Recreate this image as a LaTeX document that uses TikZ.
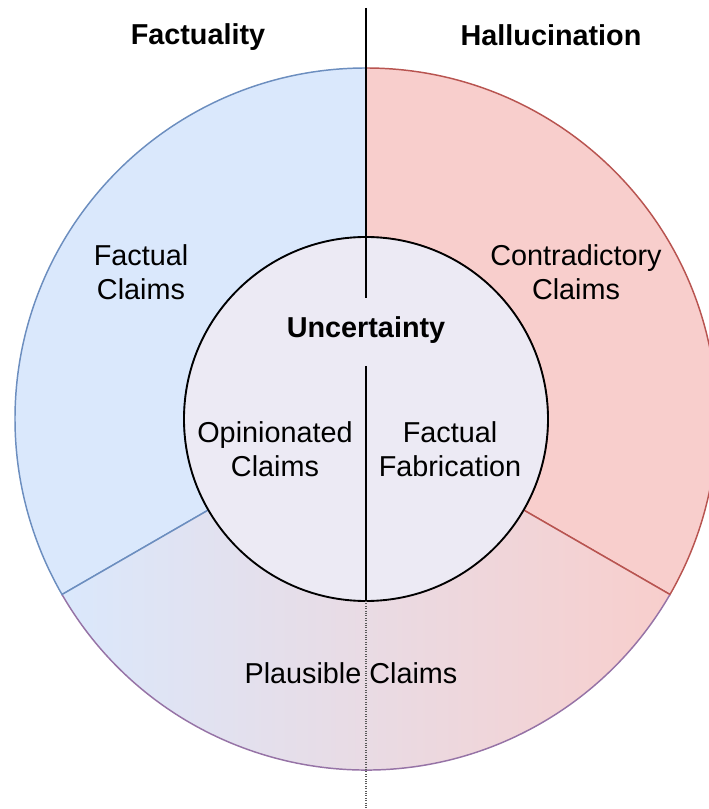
\documentclass[tikz,border=0pt]{standalone}
\usepackage{fontspec}
\setmainfont{Liberation Sans}
\usetikzlibrary{positioning}

\definecolor{factfill}{HTML}{DAE8FC}
\definecolor{factline}{HTML}{6C8EBF}
\definecolor{hallfill}{HTML}{F8CECC}
\definecolor{hallline}{HTML}{B85450}
\definecolor{plausline}{HTML}{9673A6}
\definecolor{uncfill}{HTML}{ECEAF4}

\begin{document}
\begin{tikzpicture}[x=0.75pt, y=0.75pt, line width=1.1pt,
    claim/.style={font=\fontsize{21.6}{25.5}\selectfont, align=center, inner sep=0pt},
    heading/.style={claim, font=\bfseries\fontsize{21.6}{25.5}\selectfont}]

    \useasboundingbox (-366,-390) rectangle (343,419);
    \clip (-366,-390) rectangle (343,419);

    % Points
    \coordinate (c) at (0,0);
    \coordinate (lin) at (210:182);
    \coordinate (lout) at (210:351);
    \coordinate (rin) at (-30:182);
    \coordinate (rout) at (-30:351);
    \coordinate (top) at (0,411);
    \coordinate (gaptop) at (0,121);
    \coordinate (gapbot) at (0,53);
    \coordinate (innerbot) at (0,-182);
    \coordinate (bot) at (0,-390);

    % Ring
    \filldraw[fill=factfill, draw=factline] (90:351) arc (90:210:351) -- (lin) arc (210:90:182) -- cycle;
    \filldraw[fill=hallfill, draw=hallline] (90:351) arc (90:-30:351) -- (rin) arc (-30:90:182) -- cycle;
    \shade[left color=factfill, right color=hallfill] (lout) arc (210:330:351) -- (rin) arc (330:210:182) -- cycle;
    \draw[plausline] (lout) arc (210:330:351);
    \draw[factline] (lin) -- (lout);
    \draw[hallline] (rin) -- (rout);

    % Inner circle
    \filldraw[fill=uncfill, draw=black, line width=1.4pt] (c) circle (182);

    % Nodes
    \node[heading] (fact) at (-168,382) {Factuality};
    \node[heading] (hall) at (185,384) {Hallucination};
    \node[claim] (factual) at (-225,147) {Factual\\Claims};
    \node[claim] (contra) at (210,147) {Contradictory\\Claims};
    \node[heading] (unc) at (0,89) {Uncertainty};
    \node[claim] (opin) at (-91,-30) {Opinionated\\Claims};
    \node[claim] (fabr) at (84,-30) {Factual\\Fabrication};
    \node[claim] (plaus) at (-15,-254) {Plausible Claims};

    % Edges (Lines)
    \draw[line width=1.4pt] (top) -- (gaptop);
    \draw[line width=1.4pt] (gapbot) -- (innerbot);
    \draw[gray!70!black, line width=0.8pt, densely dotted] (innerbot) -- (bot);

\end{tikzpicture}
\end{document}
